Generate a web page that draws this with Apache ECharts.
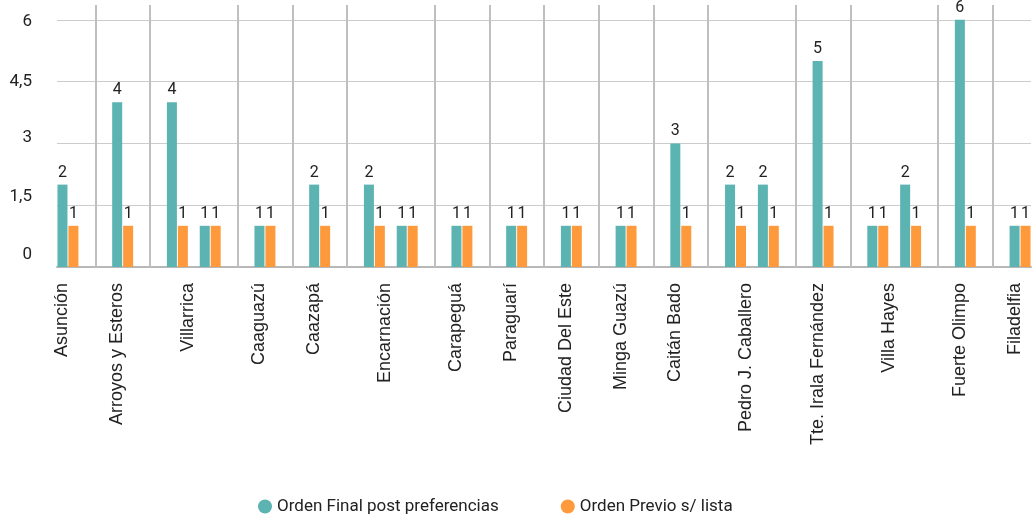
<!DOCTYPE html>
<html><head><meta charset="utf-8">
<script src="https://cdn.jsdelivr.net/npm/echarts@6/dist/echarts.min.js"></script>
<style>html,body{margin:0;padding:0;background:#fff}#c{width:1034px;height:514px}</style>
</head><body><div id="c"></div>
<script>
// ---- data ----
const cities = ['Asunción','Arroyos y Esteros','Villarrica','Caaguazú','Caazapá','Encarnación','Carapeguá','Paraguarí','Ciudad Del Este','Minga Guazú','Caitán Bado','Pedro J. Caballero','Tte. Irala Fernández','Villa Hayes','Fuerte Olimpo','Filadelfia'];
// one entry per candidate within each city
const finalOrder    = [[2],[4],[4,1],[1],[2],[2,1],[1],[1],[1],[1],[3],[2,2],[5],[1,2],[6],[1]];
const previousOrder = [[1],[1],[1,1],[1],[1],[1,1],[1],[1],[1],[1],[1],[1,1],[1],[1,1],[1],[1]];
const seriesNames = ['Orden Final post preferencias','Orden Previo s/ lista'];

// ---- build slot table (each bar occupies one slot) ----
const PAIR_GAP = 1, GROUP_GAP = 3;
const slotIds = [], finalSlots = [], prevSlots = [], labelAt = {}, dividers = [];
function pushSlot(f, p){ slotIds.push(String(slotIds.length)); finalSlots.push(f); prevSlots.push(p); }
cities.forEach((city, g) => {
  if (g > 0) {
    for (let k = 0; k < GROUP_GAP; k++) {
      if (k === Math.floor(GROUP_GAP/2)) dividers.push(slotIds.length);
      pushSlot(null, null);
    }
  }
  const start = slotIds.length;
  finalOrder[g].forEach((v, p) => {
    if (p > 0) for (let k = 0; k < PAIR_GAP; k++) pushSlot(null, null);
    pushSlot(v, null);
    pushSlot(null, previousOrder[g][p]);
  });
  const end = slotIds.length - 1;
  const multi = finalOrder[g].length > 1;
  const idx = multi ? Math.round((start + end) / 2) : start;
  labelAt[idx] = multi ? '{m|' + city + '}' : city;
});

const TEAL = '#5bb3b2', ORANGE = '#fe9a3b';
const dec = v => String(v).replace('.', ',');
const yStyle = {0:'a', 1.5:'b', 3:'c', 4.5:'d', 6:'e'};
const chart = echarts.init(document.getElementById('c'));
const barLabel = {show:true, position:'top', distance:4, color:'#222', fontSize:16, fontFamily:'Roboto'};
const yFont = {fontSize:17, color:'#222', fontFamily:'Roboto'};
chart.setOption({
  animation:false,
  backgroundColor:'#fff',
  grid:{left:57, right:3, top:5, bottom:247, containLabel:false},
  legend:{
    data:seriesNames, icon:'circle', itemWidth:14, itemHeight:14, itemGap:62,
    left:253, top:493,
    textStyle:{fontSize:17, color:'#222', fontFamily:'Roboto'}
  },
  xAxis:{
    type:'category', data:slotIds,
    axisTick:{show:false},
    axisLine:{lineStyle:{color:'#b8b8b8', width:2}},
    axisLabel:{interval:0, rotate:90, margin:16, fontSize:18, color:'#222', fontFamily:'Liberation Sans',
      formatter:(v, i) => labelAt[i] || '',
      rich:{m:{fontSize:18, color:'#222', fontFamily:'Liberation Sans', padding:[0,0,11,0]}}},
    splitLine:{show:false}
  },
  yAxis:{
    type:'value', min:0, max:6.36, interval:1.5,
    axisLine:{show:false}, axisTick:{show:false},
    splitLine:{show:true, showMaxLine:false, lineStyle:{color:'#cccccc', width:1}},
    axisLabel:Object.assign({showMaxLabel:false, margin:25,
      formatter:v => '{' + (yStyle[v] || 'd') + '|' + dec(v) + '}',
      rich:{
        a:Object.assign({padding:[0,0,24,0]}, yFont),
        b:Object.assign({padding:[0,0,16,0]}, yFont),
        c:Object.assign({padding:[0,0,12,0]}, yFont),
        d:Object.assign({}, yFont),
        e:Object.assign({padding:[3,0,0,0]}, yFont)
      }}, yFont)
  },
  series:[
    {name:seriesNames[0], type:'bar', data:finalSlots, barWidth:10, barGap:'-100%',
     itemStyle:{color:TEAL}, label:barLabel,
     markLine:{silent:true, symbol:'none', label:{show:false},
       lineStyle:{color:'#bfbfbf', width:2, type:'solid'},
       data:dividers.map(d => ({xAxis:d}))}},
    {name:seriesNames[1], type:'bar', data:prevSlots, barWidth:10, barGap:'-100%',
     itemStyle:{color:ORANGE}, label:barLabel}
  ]
});
</script></body></html>
